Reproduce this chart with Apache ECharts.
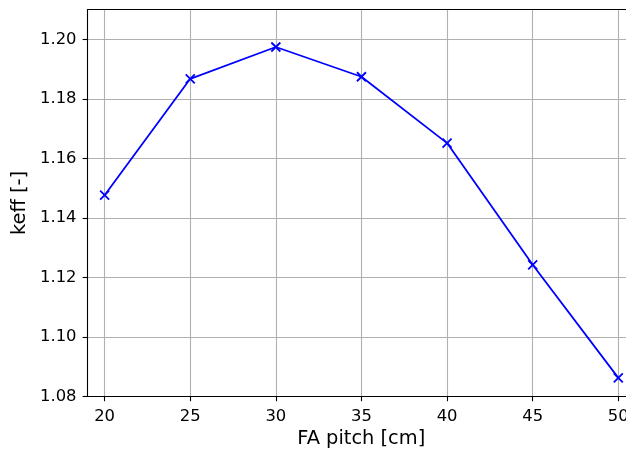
<!DOCTYPE html>
<html>
<head>
<meta charset="utf-8">
<script src="https://cdn.jsdelivr.net/npm/echarts@6/dist/echarts.min.js"></script>
<style>
html,body{margin:0;padding:0;background:#fff;}
#chart{width:626px;height:455px;}
</style>
</head>
<body>
<div id="chart"></div>
<script>
const pitch = [20, 25, 30, 35, 40, 45, 50];
const keff = [1.1476, 1.1867, 1.1974, 1.1874, 1.1651, 1.1242, 1.0862];
const xTicks = [20, 25, 30, 35, 40, 45, 50];
const yTicks = [1.08, 1.10, 1.12, 1.14, 1.16, 1.18, 1.20];
const xName = 'FA pitch [cm]';
const yName = 'keff [-]';

const font = 'DejaVu Sans';
const chart = echarts.init(document.getElementById('chart'), null, {renderer: 'canvas'});
chart.setOption({
  animation: false,
  backgroundColor: '#fff',
  grid: {
    left: 87.5, top: 9.5, right: 0, bottom: 58.7,
    show: false, containLabel: false, outerBoundsMode: 'none'
  },
  xAxis: [{
    type: 'value', min: 19, max: 50.45,
    name: xName, nameLocation: 'middle', nameGap: 33,
    nameTextStyle: {fontFamily: font, fontSize: 19.4, color: '#000', padding: [0, 0, 0, 9]},
    axisLine: {show: true, lineStyle: {color: '#000', width: 1.1}},
    axisTick: {show: true, inside: false, length: 4.9, customValues: xTicks, lineStyle: {color: '#000', width: 1.1}},
    axisLabel: {customValues: xTicks, fontFamily: font, fontSize: 16.4, color: '#000', margin: 12},
    splitLine: {show: true, lineStyle: {color: '#b0b0b0', width: 1.1}}
  }, {
    type: 'value', min: 19, max: 50.45, position: 'top',
    axisLine: {show: true, onZero: false, lineStyle: {color: '#000', width: 1.1}},
    axisTick: {show: false}, axisLabel: {show: false}, splitLine: {show: false}
  }],
  yAxis: {
    type: 'value', min: 1.08, max: 1.21,
    name: yName, nameLocation: 'middle', nameGap: 53, nameRotate: 90,
    nameTextStyle: {fontFamily: font, fontSize: 19.4, color: '#000'},
    axisLine: {show: true, lineStyle: {color: '#000', width: 1.1}},
    axisTick: {show: true, inside: false, length: 4.9, customValues: yTicks, lineStyle: {color: '#000', width: 1.1}},
    axisLabel: {customValues: yTicks, fontFamily: font, fontSize: 16.4, color: '#000', margin: 11,
      formatter: v => Number(v).toFixed(2)},
    splitLine: {show: true, lineStyle: {color: '#b0b0b0', width: 1.1}}
  },
  series: [{
    type: 'line',
    xAxisIndex: 0,
    data: pitch.map((p, i) => [p, keff[i]]),
    lineStyle: {color: '#0000ff', width: 1.8},
    symbol: 'path://M0,0L10,10M10,0L0,10',
    symbolSize: 9,
    itemStyle: {color: 'none', borderColor: '#0000ff', borderWidth: 1.8},
    z: 5
  }]
});
</script>
</body>
</html>
